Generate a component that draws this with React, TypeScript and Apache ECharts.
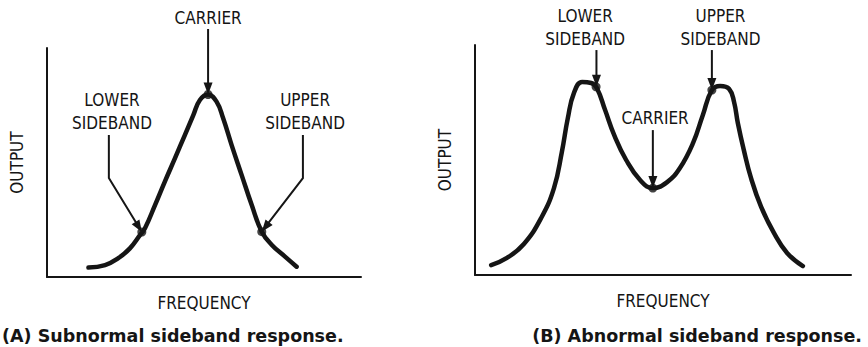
import React, { useEffect, useRef } from "react";
import * as echarts from "echarts";

// (A) Subnormal sideband response — frequency (0..100) vs output (0..100)
const leftFreq = [13.2, 18.5, 22.7, 26.4, 29.6, 31.2, 34.4, 37.6, 40.8, 43.9, 46.6, 48.7, 51.3, 54.0, 56.1, 58.8, 62.0, 65.2, 68.4, 71.6, 75.8, 79.5];
const leftOutput = [4.1, 5.2, 8.2, 12.5, 18.3, 21.3, 31.4, 41.9, 52.0, 62.0, 70.7, 77.3, 79.7, 76.6, 69.3, 57.6, 44.5, 31.4, 19.8, 14.0, 8.9, 4.5];
const leftDotFreq = [30.2, 51.3, 68.4];
const leftDotOutput = [19.6, 79.7, 19.8];

// (B) Abnormal sideband response
const rightFreq = [4.3, 8.5, 13.0, 17.6, 21.0, 23.1, 24.7, 26.3, 28.5, 30.9, 32.4, 34.6, 37.0, 40.2, 43.9, 47.3, 51.1, 54.5, 58.0, 60.6, 63.0, 65.2, 67.6, 68.9, 69.9, 71.5, 73.4, 76.1, 79.5, 83.0, 87.2];
const rightOutput = [4.3, 7.4, 13.5, 24.8, 37.8, 53.5, 68.3, 79.1, 83.9, 83.5, 81.3, 71.7, 60.9, 50.0, 41.3, 37.8, 40.4, 46.5, 57.4, 69.6, 80.4, 82.2, 80.9, 75.2, 66.1, 54.3, 42.2, 29.6, 18.3, 9.6, 3.9];
const rightDotFreq = [32.2, 47.3, 63.0];
const rightDotOutput = [81.8, 37.8, 80.4];

// annotation arrows (data coordinates, last point is the tip)
const leftArrows: number[][][] = [
  [[51.3, 108.3], [51.3, 79.7]],
  [[19.7, 62.0], [19.7, 43.2], [30.2, 19.6]],
  [[81.5, 62.0], [81.5, 43.2], [68.4, 19.8]],
];
const rightArrows: number[][][] = [
  [[32.3, 97.8], [32.3, 81.8]],
  [[63.0, 97.8], [63.0, 80.4]],
  [[47.3, 63.0], [47.3, 37.8]],
];
const leftLabelTexts = ["CARRIER", "LOWER\nSIDEBAND", "UPPER\nSIDEBAND"];
const leftLabelAt: number[][] = [[51.3, 113.1], [20.7, 72.3], [82.2, 72.3]];
const rightLabelTexts = ["LOWER\nSIDEBAND", "UPPER\nSIDEBAND", "CARRIER"];
const rightLabelAt: number[][] = [[29.3, 107.4], [65.3, 107.4], [47.9, 68.3]];

const titles = ["(A) Subnormal sideband response.", "(B) Abnormal sideband response."];
const xName = "FREQUENCY";
const yName = "OUTPUT";

const INK = "#151515";
const NARROW = "'Liberation Sans Narrow', 'DejaVu Sans Condensed', 'Roboto Condensed', 'Liberation Sans', sans-serif";
const BOLD = "'DejaVu Sans', 'Noto Sans', sans-serif";

const zip = (a: number[], b: number[]) => a.map((v, i) => [v, b[i]]);

function axisPair(gridIndex: number) {
  const nameStyle = { fontFamily: NARROW, fontSize: 17, color: INK };
  const line = { show: true, onZero: false, lineStyle: { color: INK, width: 2 } };
  return {
    x: {
      gridIndex, type: "value", min: 0, max: 100,
      axisLine: line, axisTick: { show: false }, axisLabel: { show: false }, splitLine: { show: false },
      name: xName, nameLocation: "middle", nameGap: 17, nameTextStyle: nameStyle,
    },
    y: {
      gridIndex, type: "value", min: 0, max: 100,
      axisLine: line, axisTick: { show: false }, axisLabel: { show: false }, splitLine: { show: false },
      name: yName, nameLocation: "middle", nameGap: 22, nameRotate: 90, nameTextStyle: nameStyle,
    },
  };
}

export default function App() {
  const ref = useRef<HTMLDivElement>(null);
  useEffect(() => {
    document.body.style.margin = "0";
    const chart = echarts.init(ref.current!, null, { renderer: "svg" });
    const a0 = axisPair(0);
    const a1 = axisPair(1);
    const curve = (i: number, data: number[][]) => ({
      type: "line", xAxisIndex: i, yAxisIndex: i, data, smooth: 0.45, symbol: "none", clip: false,
      lineStyle: { color: INK, width: 4.5, cap: "round", join: "round" },
    });
    const dots = (i: number, data: number[][]) => ({
      type: "scatter", xAxisIndex: i, yAxisIndex: i, data, symbol: "circle", symbolSize: 9,
      itemStyle: { color: INK }, clip: false,
    });
    chart.setOption({
      animation: false,
      title: [
        { text: titles[0], left: 2, top: 327, padding: 0, textStyle: { fontFamily: BOLD, fontWeight: "bold", fontSize: 17.5, color: INK } },
        { text: titles[1], right: 6, top: 327, padding: 0, textStyle: { fontFamily: BOLD, fontWeight: "bold", fontSize: 17.5, color: INK } },
      ],
      grid: [
        { left: 47, top: 48, width: 314, height: 229 },
        { left: 475, top: 45, width: 376, height: 230 },
      ],
      xAxis: [a0.x, a1.x],
      yAxis: [a0.y, a1.y],
      series: [
        curve(0, zip(leftFreq, leftOutput)),
        dots(0, zip(leftDotFreq, leftDotOutput)),
        curve(1, zip(rightFreq, rightOutput)),
        dots(1, zip(rightDotFreq, rightDotOutput)),
      ],
    });

    const graphics: any[] = [];
    const addArrows = (gridIndex: number, arrows: number[][][]) => {
      arrows.forEach((a) => {
        const pts = a.map((p) => chart.convertToPixel({ gridIndex }, p) as number[]);
        const tip = pts[pts.length - 1];
        const prev = pts[pts.length - 2];
        const dx = tip[0] - prev[0];
        const dy = tip[1] - prev[1];
        const len = Math.hypot(dx, dy) || 1;
        const ux = dx / len;
        const uy = dy / len;
        const headL = 12;
        const headW = 4.5;
        const base = [tip[0] - ux * headL, tip[1] - uy * headL];
        const linePts = pts.slice(0, -1).concat([[base[0] + ux * 2, base[1] + uy * 2]]);
        graphics.push({
          type: "polyline", silent: true,
          shape: { points: linePts },
          style: { stroke: INK, lineWidth: 2, fill: null },
        });
        graphics.push({
          type: "polygon", silent: true,
          shape: {
            points: [
              tip,
              [base[0] - uy * headW, base[1] + ux * headW],
              [base[0] + uy * headW, base[1] - ux * headW],
            ],
          },
          style: { fill: INK },
        });
      });
    };
    const addLabels = (gridIndex: number, texts: string[], at: number[][]) => {
      texts.forEach((t, i) => {
        const p = chart.convertToPixel({ gridIndex }, at[i]) as number[];
        graphics.push({
          type: "text", silent: true, x: p[0], y: p[1],
          style: {
            text: t, fill: INK, fontFamily: NARROW, fontSize: 17, lineHeight: 23,
            align: "center", verticalAlign: "middle", textAlign: "center", textVerticalAlign: "middle",
          },
        });
      });
    };
    addArrows(0, leftArrows);
    addArrows(1, rightArrows);
    addLabels(0, leftLabelTexts, leftLabelAt);
    addLabels(1, rightLabelTexts, rightLabelAt);
    chart.setOption({ graphic: graphics });

    return () => chart.dispose();
  }, []);
  return <div ref={ref} style={{ width: 868, height: 347 }} />;
}
